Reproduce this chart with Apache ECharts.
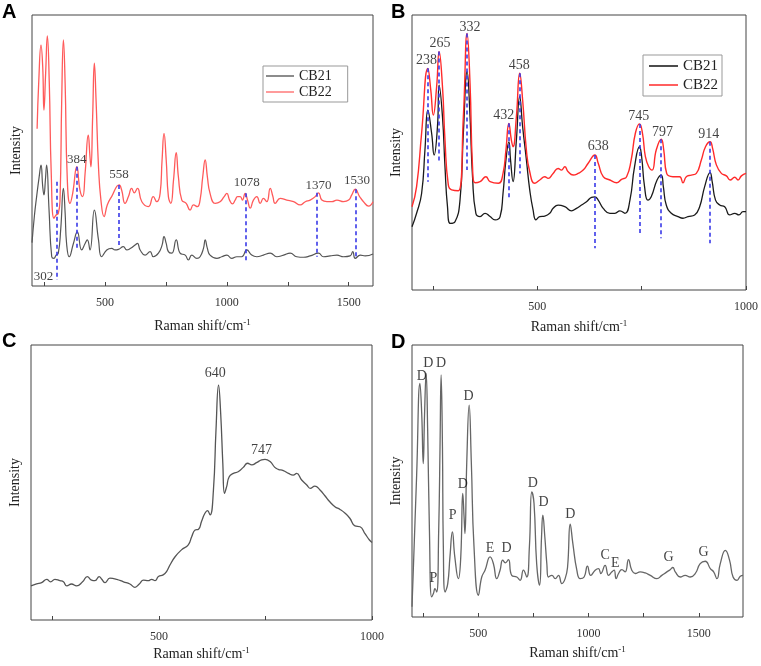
<!DOCTYPE html>
<html>
<head>
<meta charset="utf-8">
<script src="https://cdn.jsdelivr.net/npm/echarts/dist/echarts.min.js"></script>
<style>html,body{margin:0;padding:0;background:#fff;}#c{width:761px;height:666px;}</style>
</head>
<body>
<div id="c"></div>
<script>
// ---------- DATA (wavenumber cm-1, relative intensity) ----------
const A_CB21 = [[200,16.0],[210,26.0],[219,33.0],[229,40.0],[237,44.6],[244,36.7],[249,33.6],[255,39.1],[260,44.6],[270,28.0],[281,10.8],[290,10.2],[299,11.4],[308,12.1],[318,21.0],[329,36.0],[336,27.0],[342,15.7],[353,10.8],[370,15.7],[386,20.0],[404,13.3],[418,15.7],[427,17.0],[438,13.3],[456,28.0],[473,17.0],[486,10.8],[507,13.3],[527,13.9],[541,13.3],[555,13.5],[575,14.5],[589,13.3],[605,13.9],[623,15.1],[633,15.7],[644,13.3],[664,11.4],[685,12.7],[698,10.8],[719,12.1],[734,15.1],[742,18.2],[751,15.7],[760,12.7],[774,12.1],[792,17.0],[808,12.1],[829,11.4],[842,9.6],[856,11.4],[877,10.2],[890,10.8],[904,13.9],[911,17.0],[920,13.9],[931,11.4],[959,10.2],[979,10.8],[1000,11.4],[1020,10.2],[1041,10.8],[1061,10.8],[1082,13.3],[1102,11.4],[1123,10.8],[1150,11.4],[1178,12.1],[1205,10.8],[1233,11.4],[1260,12.1],[1287,10.8],[1315,10.6],[1342,11.1],[1376,12.1],[1397,10.8],[1424,11.1],[1452,11.4],[1479,10.8],[1506,11.1],[1517,12.7],[1527,10.2],[1548,11.4],[1568,11.1],[1600,11.8]];
const A_CB22 = [[221,58.0],[228,76.0],[237,88.9],[244,80.9],[249,64.9],[256,78.5],[263,92.3],[271,74.8],[279,41.6],[290,25.0],[299,26.2],[308,26.8],[315,31.7],[322,68.6],[329,90.8],[336,74.8],[345,39.1],[356,30.5],[367,34.2],[384,44.0],[397,35.4],[408,33.0],[418,41.6],[431,55.7],[438,47.7],[442,44.0],[449,62.5],[456,82.2],[463,68.6],[473,44.0],[483,31.7],[496,25.6],[509,29.9],[527,33.0],[558,37.3],[568,35.4],[582,30.5],[596,33.0],[609,36.0],[620,34.4],[633,36.0],[651,31.1],[678,29.3],[698,33.0],[712,31.1],[726,34.2],[734,46.5],[742,56.3],[751,46.5],[760,33.0],[770,30.5],[781,39.1],[792,49.2],[801,40.3],[815,31.7],[833,30.5],[849,28.0],[863,29.9],[879,29.3],[890,31.7],[901,40.3],[911,46.5],[920,40.3],[931,34.2],[952,30.5],[972,31.1],[989,33.0],[1000,34.2],[1011,31.7],[1023,30.3],[1034,31.7],[1044,33.0],[1055,33.0],[1064,31.7],[1075,34.2],[1085,31.7],[1096,28.7],[1109,31.7],[1123,33.0],[1137,30.5],[1150,32.3],[1164,31.1],[1178,36.0],[1189,33.0],[1198,30.5],[1219,32.3],[1246,31.7],[1274,31.1],[1301,29.9],[1322,31.1],[1342,31.7],[1363,33.0],[1376,34.4],[1390,31.7],[1411,31.1],[1431,31.1],[1452,31.7],[1479,31.1],[1500,31.7],[1513,33.6],[1527,35.7],[1545,33.0],[1561,31.1],[1582,29.5],[1600,31.1]];
const A_marks = [[302,38.5,2.2],[384,44.0,13.9],[558,37.3,15.1],[1078,34.2,9.0],[1370,34.4,10.8],[1530,35.7,10.2]];
const A_labels = [[384,46.5,'384'],[557,41.0,'558'],[1082,38.3,'1078'],[1376,37.1,'1370'],[1534,38.9,'1530'],[247,3.4,'302']];

const B_CB21 = [[200,23.0],[211,27.9],[223,35.1],[231,50.9],[238,65.4],[247,57.0],[253,49.1],[261,59.4],[265,74.5],[273,63.0],[279,44.8],[285,30.3],[292,24.2],[303,24.8],[315,32.7],[323,57.0],[332,79.4],[339,63.0],[345,41.2],[353,27.9],[363,26.7],[375,27.9],[387,26.7],[399,25.5],[411,26.7],[418,35.1],[425,47.3],[432,53.9],[436,47.3],[442,39.4],[450,54.5],[458,70.3],[465,59.4],[474,47.3],[482,36.4],[490,29.1],[497,25.5],[506,26.7],[518,26.9],[530,27.9],[538,29.7],[550,30.9],[566,30.3],[582,28.8],[594,29.7],[606,30.9],[618,32.1],[630,33.7],[638,33.9],[646,32.7],[658,29.7],[674,27.9],[686,27.9],[698,28.8],[710,27.9],[722,32.7],[733,44.8],[745,52.1],[750,48.5],[757,37.6],[765,32.7],[773,33.9],[787,40.0],[797,41.8],[802,37.6],[809,30.9],[821,27.9],[837,26.7],[849,26.1],[861,26.7],[877,27.3],[889,30.3],[901,37.6],[914,42.7],[919,39.4],[927,32.7],[937,30.9],[949,30.3],[961,27.3],[973,27.9],[983,27.3],[993,28.5],[1000,28.5]];
const B_CB22 = [[200,30.3],[211,37.6],[223,57.0],[238,80.6],[245,72.7],[251,63.6],[259,73.9],[265,86.7],[273,73.9],[279,54.5],[287,38.2],[295,36.4],[311,36.1],[323,63.0],[332,93.3],[339,75.1],[345,44.8],[351,39.0],[363,39.4],[377,41.2],[387,39.4],[407,38.8],[418,42.4],[425,50.9],[432,60.6],[438,54.5],[442,52.1],[450,63.0],[458,78.8],[465,69.1],[474,50.9],[482,43.0],[494,38.8],[506,40.0],[518,41.2],[526,40.6],[538,42.4],[550,44.2],[558,43.6],[566,44.8],[574,43.0],[586,41.8],[598,42.4],[610,43.6],[622,46.1],[638,49.1],[646,46.1],[658,41.2],[674,40.0],[690,39.0],[702,40.2],[714,41.2],[725,47.3],[735,57.0],[745,60.4],[752,57.0],[759,48.5],[767,44.8],[775,43.6],[785,50.9],[797,54.8],[803,50.9],[810,42.4],[825,41.2],[841,41.2],[849,39.0],[857,41.2],[869,41.8],[881,42.4],[893,47.3],[903,52.1],[914,53.9],[920,51.5],[929,45.5],[941,42.4],[953,41.5],[962,40.0],[973,41.0],[981,40.0],[989,41.5],[1000,42.4]];
const B_marks = [[238,80.6,39.4],[265,86.7,46.1],[332,93.3,43.6],[432,60.6,32.7],[458,78.8,42.4],[638,49.1,15.2],[745,60.4,20.0],[797,54.8,18.8],[914,53.9,17.0]];
const B_labels = [[235,83.6,'238'],[267,89.6,'265'],[339,95.4,'332'],[420,63.6,'432'],[457,81.7,'458'],[646,52.4,'638'],[743,63.3,'745'],[800,57.5,'797'],[911,56.7,'914']];

const C_spec = [[200,12.4],[213,13.1],[225,13.6],[237,14.8],[246,13.9],[256,14.8],[268,14.3],[276,13.9],[284,12.4],[295,13.1],[307,12.4],[321,13.9],[332,15.8],[342,14.5],[350,14.3],[360,15.8],[366,14.8],[374,13.6],[385,15.2],[401,14.8],[417,13.9],[432,13.1],[444,11.9],[454,13.1],[464,14.5],[475,14.3],[483,14.8],[491,14.3],[499,15.8],[510,16.4],[518,17.6],[526,20.0],[538,23.0],[553,25.5],[569,27.3],[577,30.3],[585,32.7],[593,33.0],[600,35.8],[608,38.8],[614,39.8],[620,38.2],[628,47.3],[634,69.1],[640,85.4],[645,75.1],[650,57.0],[654,46.1],[659,48.5],[665,52.1],[675,53.3],[686,53.9],[698,55.5],[708,57.0],[718,56.4],[729,57.2],[741,58.2],[749,58.4],[761,57.6],[772,55.5],[780,54.8],[792,54.3],[804,53.3],[815,52.7],[823,53.3],[835,50.9],[847,49.1],[855,47.9],[866,48.7],[878,47.3],[890,45.1],[901,43.0],[913,41.2],[925,40.2],[937,38.8],[948,37.0],[960,34.2],[972,33.9],[984,31.3],[994,29.1],[1000,28.2]];
const C_labels = [[632,89.7,'640'],[741,61.6,'747']];

const D_spec = [[200,3.8],[206,17.5],[221,52.0],[236,85.9],[244,74.8],[251,56.4],[257,74.8],[264,89.6],[271,68.7],[279,31.9],[289,7.4],[297,8.6],[304,10.4],[312,9.2],[321,31.9],[327,62.6],[332,89.0],[338,62.6],[342,25.8],[350,9.2],[362,12.3],[372,22.1],[383,31.3],[394,22.1],[410,14.1],[421,22.1],[430,45.4],[436,36.8],[440,30.7],[448,56.4],[459,77.9],[469,56.4],[481,25.8],[501,8.0],[516,14.7],[531,17.2],[554,22.1],[569,19.6],[584,14.1],[599,17.2],[611,20.9],[623,19.9],[637,21.1],[652,15.3],[675,14.7],[690,13.5],[705,17.2],[720,14.7],[732,25.8],[743,46.0],[753,41.7],[765,19.6],[778,11.7],[787,29.4],[793,37.4],[802,29.4],[811,19.6],[818,14.7],[834,15.3],[849,14.1],[864,15.3],[879,12.3],[894,14.1],[905,18.4],[917,34.1],[929,27.0],[947,17.2],[962,14.1],[980,14.7],[995,18.7],[1010,15.3],[1030,17.2],[1045,17.8],[1056,16.0],[1075,19.0],[1091,15.3],[1106,16.6],[1116,17.2],[1125,14.1],[1136,16.0],[1151,17.4],[1166,16.6],[1181,21.1],[1196,17.2],[1212,16.0],[1234,16.6],[1257,16.2],[1280,15.3],[1310,14.1],[1332,15.3],[1355,16.6],[1370,17.4],[1382,18.2],[1393,16.6],[1416,14.7],[1438,15.3],[1461,14.7],[1484,16.0],[1506,19.6],[1529,20.5],[1552,17.8],[1567,16.6],[1582,14.1],[1597,19.6],[1620,24.5],[1639,20.9],[1655,14.7],[1673,13.5],[1688,15.0],[1700,15.3]];
const D_labels = [[244,88.3,'D'],[274,93.3,'D'],[332,93.3,'D'],[456,81.0,'D'],[430,48.8,'D'],[384,37.4,'P'],[297,14.1,'P'],[554,25.2,'E'],[629,25.2,'D'],[747,49.3,'D'],[796,42.0,'D'],[917,37.8,'D'],[1075,22.5,'C'],[1121,19.9,'E'],[1363,22.1,'G'],[1521,23.9,'G']];

const ticksA = [500,1000,1500], minorA = [250,750,1250];
const ticksB = [500,1000], minorB = [250,750];
const ticksC = [500,1000], minorC = [250,750];
const ticksD = [500,1000,1500], minorD = [250,750,1250];
const seriesNames = ['CB21','CB22'];

// ---------- STYLE ----------
const SERIF = 'Liberation Serif';
const grids = [
  {left:32, top:15, width:341, height:271},
  {left:412, top:15, width:334, height:275},
  {left:31, top:345, width:341, height:275},
  {left:412, top:345, width:331, height:272}
].map(g => Object.assign({show:true, borderColor:'#444', borderWidth:1, backgroundColor:'transparent'}, g));

function xAx(i, min, max, major, minor, gap) {
  return {
    type:'value', gridIndex:i, min:min, max:max,
    name:'Raman shift/cm{s|-1}', nameLocation:'middle', nameGap:gap,
    nameTextStyle:{fontFamily:SERIF, fontSize:14, color:'#222',
      rich:{s:{fontFamily:SERIF, fontSize:9, color:'#222', verticalAlign:'top', padding:[0,0,8,0]}}},
    axisLine:{show:false},
    axisTick:{show:true, inside:true, length:4, lineStyle:{color:'#444'}, customValues: major.concat(minor).sort((a,b)=>a-b)},
    axisLabel:{show:true, fontFamily:SERIF, fontSize:12, color:'#333', margin:11, customValues: major, formatter: v => String(v)},
    splitLine:{show:false}
  };
}
function yAx(i) {
  return {
    type:'value', gridIndex:i, min:0, max:100,
    name:'Intensity', nameLocation:'middle', nameGap:9, nameRotate:90,
    nameTextStyle:{fontFamily:SERIF, fontSize:14, color:'#222'},
    axisLine:{show:false}, axisTick:{show:false}, axisLabel:{show:false}, splitLine:{show:false}
  };
}
function spec(name, i, data, color, width) {
  return {type:'line', name:name, xAxisIndex:i, yAxisIndex:i, data:data, symbol:'none', showSymbol:false,
    smooth:0.5, lineStyle:{color:color, width:width||1.3}, itemStyle:{color:color},
    silent:true, animation:false, z:2};
}
function marks(i, list) {
  return {type:'line', xAxisIndex:i, yAxisIndex:i, data:[], silent:true, animation:false, z:5,
    markLine:{symbol:'none', silent:true, animation:false,
      lineStyle:{color:'#3a3ae8', width:1.6, type:[4,3]}, label:{show:false},
      data: list.map(m => [{coord:[m[0], m[1]]}, {coord:[m[0], m[2]]}])}};
}
function labels(i, list, size) {
  return {type:'scatter', xAxisIndex:i, yAxisIndex:i, data:list, symbolSize:1,
    itemStyle:{color:'rgba(0,0,0,0)'}, silent:true, animation:false, z:6,
    label:{show:true, position:'inside', formatter:p => p.value[2], fontFamily:SERIF, fontSize:size||13, color:'#111'}};
}
function legendItem(name, color) {
  return {name:name, icon:'rect', itemStyle:{color:color, borderWidth:0}, lineStyle:{width:0}};
}

const option = {
  animation:false,
  backgroundColor:'#fff',
  title:[
    {text:'A', left:2, top:2},
    {text:'B', left:391, top:2},
    {text:'C', left:2, top:331},
    {text:'D', left:391, top:332}
  ].map(t => Object.assign({padding:0, textStyle:{fontFamily:'Liberation Sans', fontSize:20, fontWeight:'bold', color:'#000'}}, t)),
  legend:[
    {left:263, top:66, orient:'vertical', itemWidth:28, itemHeight:1.5, itemGap:2,
     padding:[3,16,3,3], borderColor:'#999', borderWidth:1, backgroundColor:'#fff',
     textStyle:{fontFamily:SERIF, fontSize:14, color:'#222', lineHeight:14}, selectedMode:false,
     data:[legendItem(seriesNames[0], '#666'), legendItem(seriesNames[1], '#ff7a7a')]},
    {left:643, top:55, orient:'vertical', itemWidth:29, itemHeight:1.5, itemGap:3,
     padding:[3,4,3,6], borderColor:'#999', borderWidth:1, backgroundColor:'#fff',
     textStyle:{fontFamily:SERIF, fontSize:15, color:'#222', lineHeight:16}, selectedMode:false,
     data:[legendItem(seriesNames[0], '#111'), legendItem(seriesNames[1], '#ff2a2a')]}
  ],
  grid:grids,
  xAxis:[
    xAx(0, 200, 1600, ticksA, minorA, 32),
    xAx(1, 200, 1000, ticksB, minorB, 29),
    xAx(2, 200, 1000, ticksC, minorC, 26),
    xAx(3, 200, 1700, ticksD, minorD, 28)
  ],
  yAxis:[yAx(0), yAx(1), yAx(2), yAx(3)],
  series:[
    spec(seriesNames[0], 0, A_CB21, '#555555', 1.2),
    spec(seriesNames[1], 0, A_CB22, '#ff5a5a', 1.3),
    marks(0, A_marks),
    labels(0, A_labels, 13),
    spec(seriesNames[0], 1, B_CB21, '#1a1a1a', 1.3),
    spec(seriesNames[1], 1, B_CB22, '#ff2a2a', 1.4),
    marks(1, B_marks),
    labels(1, B_labels, 14),
    spec('C', 2, C_spec, '#555555', 1.3),
    labels(2, C_labels, 14),
    spec('D', 3, D_spec, '#666666', 1.3),
    labels(3, D_labels, 14)
  ]
};
const chart = echarts.init(document.getElementById('c'), null, {renderer:'canvas'});
chart.setOption(option);
</script>
</body>
</html>
